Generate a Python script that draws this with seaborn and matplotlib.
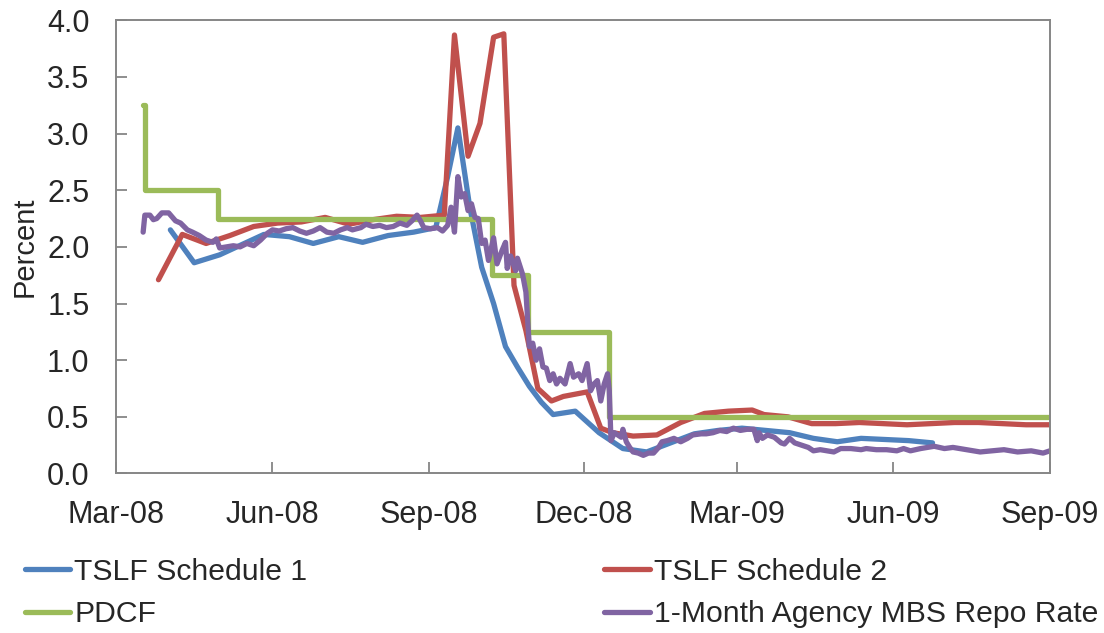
import pandas as pd
import seaborn as sns
import matplotlib.pyplot as plt
import matplotlib.dates as mdates

# day offsets are counted from 1 Mar 2008 (left edge of the axis)
start = pd.Timestamp("2008-03-01")

# TSLF Schedule 1 auction rates
tslf1_day = [32, 46, 61, 87, 102, 116, 131, 145, 160, 175, 188, 195, 201, 208, 215,
             222, 229, 236, 243, 250, 257, 270, 284, 298, 312, 326, 340, 354, 368,
             382, 396, 410, 424, 438, 452, 466, 480]
tslf1_val = [2.15, 1.86, 1.93, 2.11, 2.09, 2.03, 2.09, 2.04, 2.10, 2.13, 2.17, 2.62, 3.05, 2.35, 1.82,
             1.50, 1.12, 0.94, 0.77, 0.63, 0.52, 0.55, 0.36, 0.22, 0.19, 0.27, 0.35, 0.38, 0.40,
             0.38, 0.36, 0.31, 0.28, 0.31, 0.30, 0.29, 0.27]

# TSLF Schedule 2 auction rates
tslf2_day = [25, 39, 53, 67, 81, 95, 109, 123, 137, 151, 165, 179, 193, 199, 207, 214, 222,
             228, 234, 241, 248, 256, 263, 277, 285, 292, 304, 318, 332, 346, 360, 374,
             381, 395, 409, 423, 437, 451, 465, 479, 493, 507, 521, 535, 549]
tslf2_val = [1.71, 2.11, 2.03, 2.10, 2.18, 2.21, 2.22, 2.26, 2.20, 2.24, 2.27, 2.26, 2.28, 3.87, 2.80, 3.09, 3.85,
             3.88, 1.66, 1.26, 0.75, 0.64, 0.68, 0.72, 0.40, 0.36, 0.33, 0.34, 0.45, 0.53, 0.55, 0.56,
             0.52, 0.50, 0.44, 0.44, 0.45, 0.44, 0.43, 0.44, 0.45, 0.45, 0.44, 0.43, 0.43]

# PDCF (primary credit rate), step changes
pdcf_dates = ["2008-03-17", "2008-03-18", "2008-04-30", "2008-10-08", "2008-10-29",
              "2008-12-16", "2009-09-01"]
pdcf_val = [3.25, 2.50, 2.25, 1.75, 1.25, 0.50, 0.50]

# 1-Month Agency MBS repo rate
repo_day = [16, 17, 20, 22, 24, 27, 31, 35, 38, 42, 45, 49, 53, 57, 59, 61, 65, 69, 73, 77,
            81, 85, 89, 92, 96, 100, 104, 108, 112, 116, 120, 124, 128, 132, 136, 139, 144,
            147, 151, 155, 159, 163, 167, 171, 174, 177, 179, 181, 185, 189, 192, 195, 197,
            199, 201, 203, 205, 207, 209, 211, 213, 215, 217, 219, 222, 224, 227, 229, 230,
            232, 235, 236, 239, 241, 243, 245, 247, 249, 251, 253, 255, 257, 259, 261, 264,
            267, 269, 272, 274, 277, 279, 281, 283, 285, 287, 289, 290, 291, 293, 295, 297,
            298, 300, 302, 304, 307, 310, 313, 316, 319, 321, 324, 328, 332, 336, 339, 344,
            347, 351, 355, 359, 363, 367, 371, 375, 377, 378, 380, 383, 387, 391, 393, 396,
            399, 403, 407, 410, 414, 418, 422, 426, 432, 438, 441, 447, 453, 459, 463, 467,
            473, 481, 487, 492, 500, 508, 515, 522, 530, 538, 545, 549]
repo_val = [2.13, 2.28, 2.28, 2.24, 2.25, 2.30, 2.30, 2.23, 2.21, 2.15, 2.13, 2.10, 2.06, 2.04, 2.07, 1.99, 2.00, 2.01, 2.00, 2.03,
            2.01, 2.06, 2.12, 2.15, 2.14, 2.16, 2.17, 2.14, 2.12, 2.14, 2.17, 2.13, 2.12, 2.15, 2.17, 2.15, 2.17,
            2.20, 2.18, 2.19, 2.17, 2.18, 2.21, 2.19, 2.23, 2.28, 2.23, 2.17, 2.16, 2.17, 2.14, 2.19, 2.35,
            2.13, 2.62, 2.44, 2.47, 2.32, 2.38, 2.26, 2.25, 2.03, 2.06, 1.88, 2.08, 1.85, 1.97, 2.04, 1.81,
            1.92, 1.79, 1.90, 1.76, 1.60, 1.12, 1.15, 1.00, 1.10, 0.94, 0.93, 0.82, 0.88, 0.79, 0.84, 0.79,
            0.97, 0.85, 0.88, 0.82, 0.97, 0.73, 0.79, 0.82, 0.64, 0.79, 0.88, 0.73, 0.29, 0.36, 0.34, 0.32,
            0.39, 0.28, 0.23, 0.19, 0.18, 0.16, 0.18, 0.18, 0.23, 0.28, 0.29, 0.31, 0.28, 0.31, 0.34, 0.35,
            0.35, 0.36, 0.38, 0.37, 0.40, 0.38, 0.39, 0.39, 0.29, 0.36, 0.31, 0.34, 0.32, 0.27, 0.26, 0.31,
            0.27, 0.25, 0.23, 0.20, 0.21, 0.20, 0.19, 0.22, 0.22, 0.21, 0.22, 0.21, 0.21, 0.20, 0.22, 0.20,
            0.22, 0.24, 0.22, 0.23, 0.21, 0.19, 0.20, 0.21, 0.19, 0.20, 0.18, 0.20]


def to_dates(days):
    return start + pd.to_timedelta(days, unit="D")


tslf1 = pd.DataFrame({"Date": to_dates(tslf1_day), "Rate": tslf1_val})
tslf2 = pd.DataFrame({"Date": to_dates(tslf2_day), "Rate": tslf2_val})
pdcf = pd.DataFrame({"Date": pd.to_datetime(pdcf_dates), "Rate": pdcf_val})
repo = pd.DataFrame({"Date": to_dates(repo_day), "Rate": repo_val})

sns.set_style("white")
plt.rcParams["font.family"] = ["Liberation Sans", "DejaVu Sans"]

fig = plt.figure(figsize=(11.04, 6.33), dpi=100)
ax = fig.add_axes([0.105, 0.252, 0.846, 0.716])

lw = 3.8
sns.lineplot(data=tslf1, x="Date", y="Rate", color="#4F81BD", lw=lw, label="TSLF Schedule 1", ax=ax)
sns.lineplot(data=tslf2, x="Date", y="Rate", color="#C0504D", lw=lw, label="TSLF Schedule 2", ax=ax)
sns.lineplot(data=pdcf, x="Date", y="Rate", color="#9BBB59", lw=lw, drawstyle="steps-post",
             label="PDCF", ax=ax)
sns.lineplot(data=repo, x="Date", y="Rate", color="#8064A2", lw=lw,
             label="1-Month Agency MBS Repo Rate", ax=ax)

ax.set_xlim(pd.Timestamp("2008-03-01"), pd.Timestamp("2009-09-01"))
ax.set_ylim(0, 4.0)
ax.set_yticks([i * 0.5 for i in range(9)])
ax.yaxis.set_major_formatter(plt.FormatStrFormatter("%.1f"))
ax.xaxis.set_major_locator(mdates.MonthLocator(bymonth=[3, 6, 9, 12]))
ax.xaxis.set_major_formatter(mdates.DateFormatter("%b-%y"))

ax.set_xlabel("")
ax.set_ylabel("Percent", fontsize=21, labelpad=6)
ax.tick_params(axis="both", labelsize=22, length=8, width=1.3, color="#868686",
               direction="in", bottom=True, left=True)
ax.tick_params(axis="y", pad=19)
ax.tick_params(axis="x", pad=19)
for side in ax.spines.values():
    side.set_color("#868686")
    side.set_linewidth(1.4)

# legend below the plot, two columns
h, l = ax.get_legend_handles_labels()
ax.get_legend().remove()
order = [0, 2, 1, 3]
fig.legend([h[i] for i in order], [l[i] for i in order], ncol=2, loc="upper left",
           bbox_to_anchor=(0.006, 0.147), frameon=False, fontsize=21.7, borderpad=0.1,
           handlelength=1.5, handletextpad=0.15, columnspacing=9.85, labelspacing=0.47)

plt.savefig("out.png", dpi=100)
